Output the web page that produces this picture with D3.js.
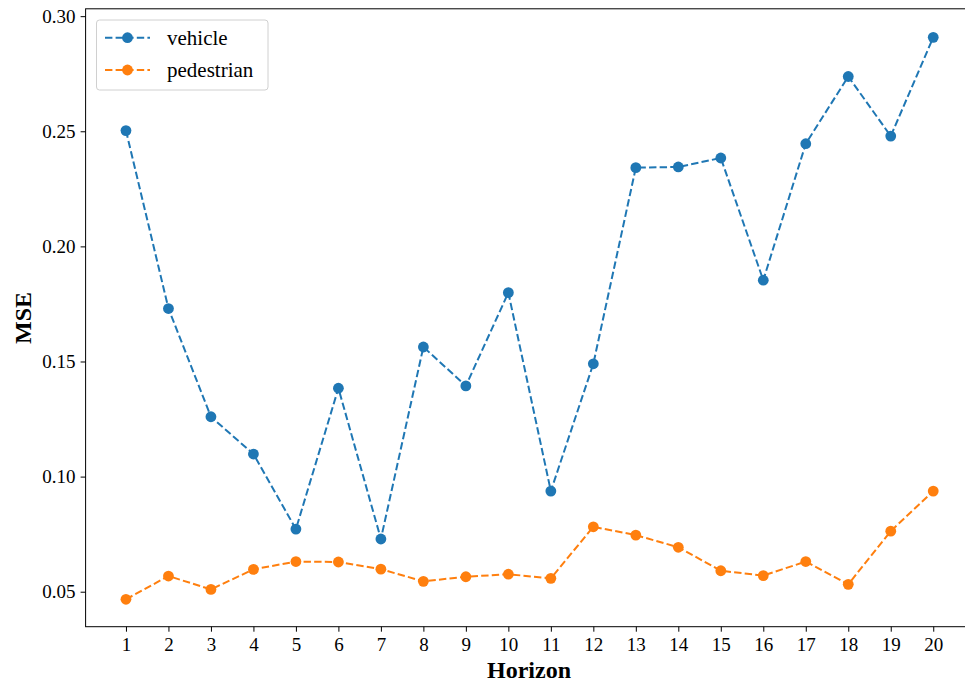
<!DOCTYPE html>
<html>
<head>
<meta charset="utf-8">
<script src="https://cdn.jsdelivr.net/npm/d3@7"></script>
<style>
  body { margin: 0; background: #fff; }
  svg { display: block; font-family: "Liberation Serif", "Times New Roman", serif; }
</style>
</head>
<body>
<svg id="chart" width="965" height="686"></svg>
<script>
// chart data
var horizons = [1, 2, 3, 4, 5, 6, 7, 8, 9, 10, 11, 12, 13, 14, 15, 16, 17, 18, 19, 20];
var vehicle = [0.2503, 0.1730, 0.1260, 0.1098, 0.0772, 0.1384, 0.0729, 0.1563, 0.1394, 0.1799,
               0.0937, 0.1490, 0.2342, 0.2345, 0.2384, 0.1853, 0.2446, 0.2738, 0.2479, 0.2908];
var pedestrian = [0.0467, 0.0568, 0.0510, 0.0597, 0.0631, 0.0629, 0.0598, 0.0545, 0.0565, 0.0576,
                  0.0558, 0.0782, 0.0746, 0.0693, 0.0591, 0.0570, 0.0631, 0.0532, 0.0763, 0.0937];
var yTicks = [0.05, 0.10, 0.15, 0.20, 0.25, 0.30];
var seriesNames = ["vehicle", "pedestrian"];
var seriesColors = ["#1f77b4", "#ff7f0e"];

var svg = d3.select("#chart");

// plot frame (right edge falls just outside the picture)
var plotLeft = 85.6, plotRight = 973.6, plotTop = 8.8, plotBottom = 626.7;

var x = d3.scaleLinear().domain([0.05, 20.95]).range([plotLeft, plotRight]);
var y = d3.scaleLinear().domain([0.0348, 0.3032]).range([plotBottom, plotTop]);

// axes
var xAxis = d3.axisBottom(x).tickValues(horizons).tickFormat(d3.format("d")).tickSize(5).tickPadding(6);
var yAxis = d3.axisLeft(y).tickValues(yTicks).tickFormat(d3.format(".2f")).tickSize(5).tickPadding(5);

var gx = svg.append("g").attr("transform", "translate(0," + plotBottom + ")").call(xAxis);
var gy = svg.append("g").attr("transform", "translate(" + plotLeft + ",0)").call(yAxis);

[gx, gy].forEach(function(g) {
    g.select(".domain").remove();
    g.selectAll(".tick line").attr("stroke", "#000").attr("stroke-width", 1);
    g.selectAll(".tick text")
        .attr("fill", "#000")
        .style("font-size", "19px")
        .style("font-family", "Liberation Serif, Times New Roman, serif");
});

svg.append("rect")
    .attr("x", plotLeft).attr("y", plotTop)
    .attr("width", plotRight - plotLeft).attr("height", plotBottom - plotTop)
    .attr("fill", "none").attr("stroke", "#000").attr("stroke-width", 1);

// axis labels
svg.append("text")
    .attr("x", 529)
    .attr("y", 678)
    .attr("text-anchor", "middle")
    .style("font-size", "24px").style("font-weight", "bold")
    .text("Horizon");

svg.append("text")
    .attr("transform", "translate(31,318) rotate(-90)")
    .attr("text-anchor", "middle")
    .style("font-size", "24px").style("font-weight", "bold")
    .text("MSE");

// lines and markers
var line = d3.line()
    .x(function(d, i) { return x(horizons[i]); })
    .y(function(d) { return y(d); });

var allSeries = [vehicle, pedestrian];
allSeries.forEach(function(values, s) {
    var g = svg.append("g");
    g.append("path")
        .datum(values)
        .attr("d", line)
        .attr("fill", "none")
        .attr("stroke", seriesColors[s])
        .attr("stroke-width", 2)
        .attr("stroke-dasharray", "7.4,3.2");
    g.selectAll("circle")
        .data(values)
        .enter().append("circle")
        .attr("cx", function(d, i) { return x(horizons[i]); })
        .attr("cy", function(d) { return y(d); })
        .attr("r", 5.4)
        .attr("fill", seriesColors[s]);
});

// legend
var legend = svg.append("g");
legend.append("rect")
    .attr("x", 96.5).attr("y", 20)
    .attr("width", 171.5).attr("height", 70)
    .attr("rx", 3)
    .attr("fill", "#fff").attr("fill-opacity", 0.8)
    .attr("stroke", "#d0d0d0").attr("stroke-width", 1);

var rows = legend.selectAll(".legend")
    .data(seriesNames)
    .enter().append("g")
    .attr("class", "legend")
    .attr("transform", function(d, i) { return "translate(0," + (37.7 + i * 32.3) + ")"; });

rows.append("line")
    .attr("x1", 105).attr("x2", 150)
    .attr("stroke", function(d, i) { return seriesColors[i]; })
    .attr("stroke-width", 2)
    .attr("stroke-dasharray", "7.4,3.2");

rows.append("circle")
    .attr("cx", 127.5).attr("r", 5.4)
    .attr("fill", function(d, i) { return seriesColors[i]; });

rows.append("text")
    .attr("x", 167)
    .attr("y", 7)
    .style("font-size", "21px")
    .text(function(d) { return d; });
</script>
</body>
</html>
